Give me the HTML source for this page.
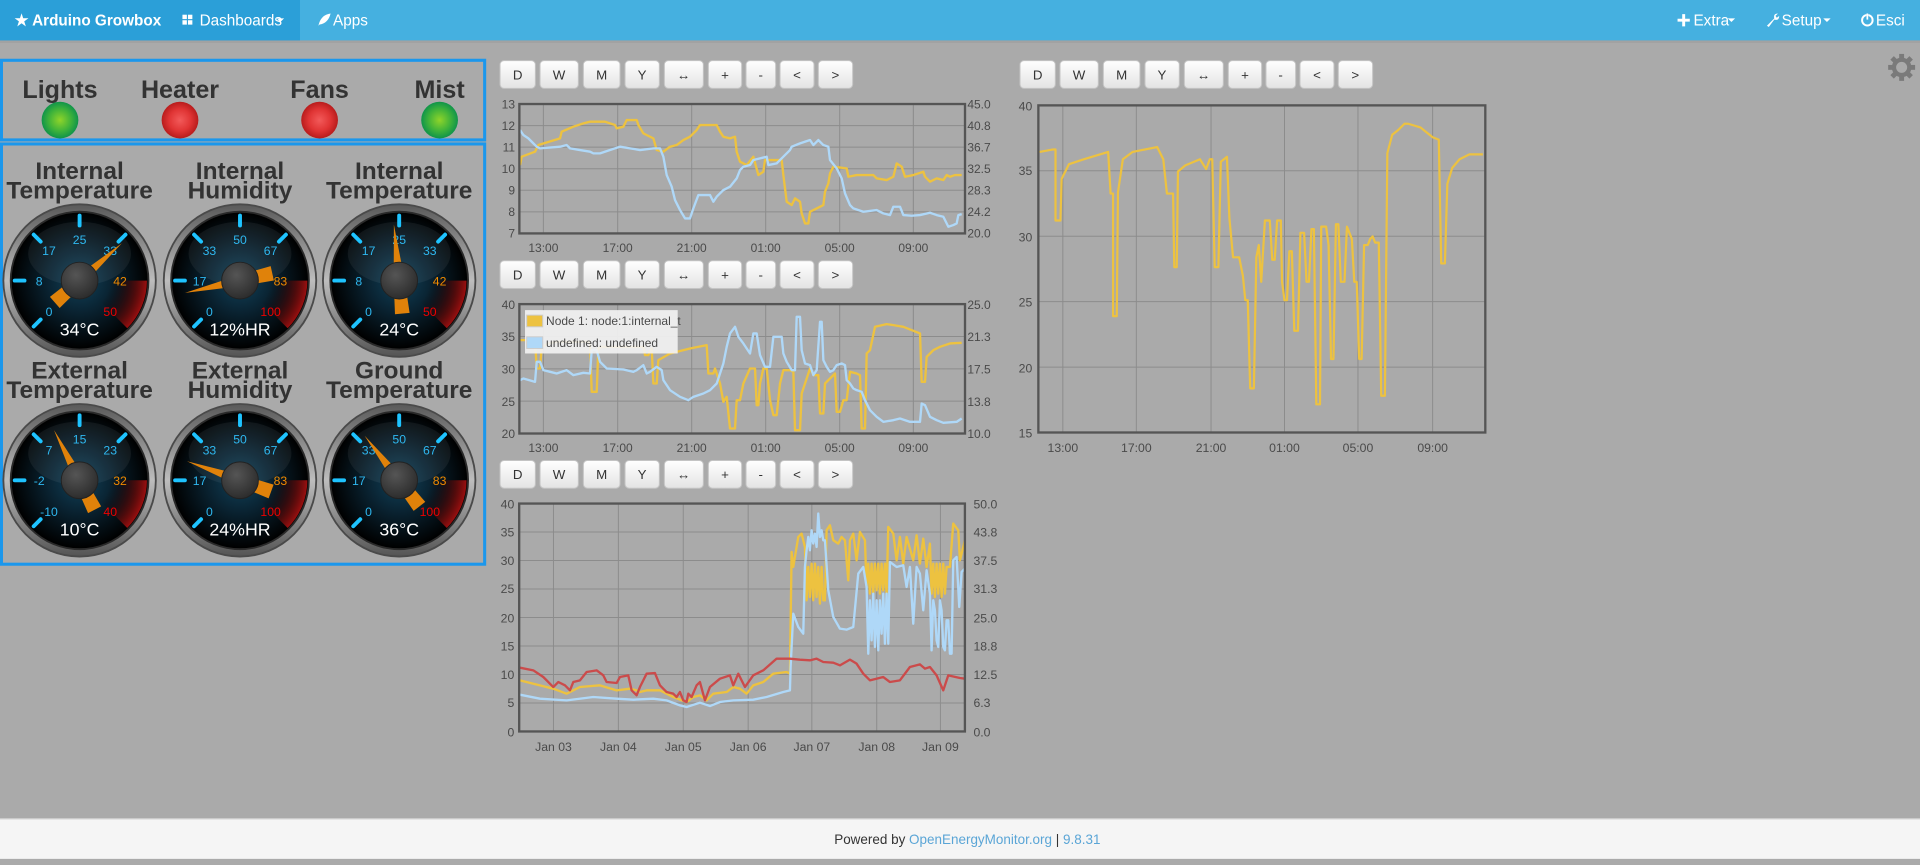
<!DOCTYPE html>
<html><head><meta charset="utf-8"><style>
html,body{margin:0;padding:0;background:#aaa;overflow:hidden;width:1920px;height:865px}
svg{display:block}
text{font-family:"Liberation Sans",Arial,sans-serif}
</style></head><body>
<svg width="1920" height="865" viewBox="0 0 1568 706" preserveAspectRatio="none" xmlns="http://www.w3.org/2000/svg">
<defs>
<linearGradient id="btn" x1="0" y1="0" x2="0" y2="1"><stop offset="0" stop-color="#ffffff"/><stop offset="1" stop-color="#e3e3e3"/></linearGradient>
<linearGradient id="ring" x1="0" y1="0" x2="0" y2="1"><stop offset="0" stop-color="#5a5a5a"/><stop offset="0.5" stop-color="#bdbdbd"/><stop offset="1" stop-color="#555"/></linearGradient>
<radialGradient id="face" cx="0.5" cy="0.5" r="0.5"><stop offset="0" stop-color="#10425a"/><stop offset="0.45" stop-color="#0a2433"/><stop offset="1" stop-color="#000"/></radialGradient>
<radialGradient id="red" cx="0" cy="0" r="55" gradientUnits="userSpaceOnUse"><stop offset="0.45" stop-color="#000" stop-opacity="0"/><stop offset="1" stop-color="#9a1010"/></radialGradient>
<radialGradient id="knob" cx="0.4" cy="0.35" r="0.7"><stop offset="0" stop-color="#555"/><stop offset="1" stop-color="#2a2a2a"/></radialGradient>
<radialGradient id="ledg" cx="0.5" cy="0.5" r="0.5"><stop offset="0" stop-color="#8fd42a"/><stop offset="0.6" stop-color="#3fb33a"/><stop offset="1" stop-color="#10944a"/></radialGradient>
<radialGradient id="ledr" cx="0.5" cy="0.5" r="0.5"><stop offset="0" stop-color="#f25a5a"/><stop offset="0.6" stop-color="#e03434"/><stop offset="1" stop-color="#b81c1c"/></radialGradient>
<g id="gface">
<circle r="63" fill="#4a4a4a"/>
<circle r="61.5" fill="url(#ring)"/>
<circle r="57" fill="#2a2a2a"/>
<circle r="55.5" fill="url(#face)"/>
<path d="M0,0 L55,0 A55,55 0 0 1 38.9,38.9 Z" fill="url(#red)"/>
<ellipse cx="0" cy="-22" rx="42" ry="26" fill="#fff" opacity="0.06"/>
<g stroke="#1ec3ff" stroke-width="3.2" stroke-linecap="round">
<line x1="-31.8" y1="31.8" x2="-37.5" y2="37.5"/>
<line x1="-45" y1="0" x2="-53" y2="0"/>
<line x1="-31.8" y1="-31.8" x2="-37.5" y2="-37.5"/>
<line x1="0" y1="-45" x2="0" y2="-53"/>
<line x1="31.8" y1="-31.8" x2="37.5" y2="-37.5"/>
</g>
</g>
</defs>

<!-- navbar -->
<rect x="0" y="0" width="1568" height="33" fill="#45b0e0"/>
<rect x="0" y="0" width="245" height="33" fill="#2b9fd8"/>
<rect x="0" y="33" width="1568" height="2" fill="#9a9a9a" opacity="0.5"/>
<g fill="#fff" font-size="12.5">
<text x="12" y="21" font-weight="bold">★ Arduino Growbox</text>
<rect x="149" y="12" width="3.6" height="3.6"/><rect x="153.5" y="12" width="3.6" height="3.6"/><rect x="149" y="16.5" width="3.6" height="3.6"/><rect x="153.5" y="16.5" width="3.6" height="3.6"/>
<text x="163" y="21">Dashboards</text><path d="M226,15 L232,15 L229,18 Z"/>
<path d="M260,21 Q262,12 270,11 Q268,19 261,20 Z" /><text x="272" y="21">Apps</text>
<path d="M1370,15.3 H1380 V17.7 H1370 Z M1373.8,11.5 H1376.2 V21.5 H1373.8 Z"/><text x="1383" y="21">Extra</text><path d="M1411,15 L1417,15 L1414,18 Z"/>
<path d="M1443,21 L1449,15 Q1448,11 1452,11 L1450,13 L1451,14.5 L1453,13 Q1453,17 1449,16 L1444.5,22 Z"/><text x="1455" y="21">Setup</text><path d="M1489,15 L1495,15 L1492,18 Z"/>
<circle cx="1525" cy="16.5" r="4.3" fill="none" stroke="#fff" stroke-width="1.6"/><rect x="1524.2" y="10.5" width="1.6" height="6" fill="#45b0e0"/><rect x="1524.3" y="11" width="1.4" height="5"/><text x="1532" y="21">Esci</text>
</g>

<!-- gear -->
<g transform="translate(1553,55)" fill="#7a7a7a">
<g><rect x="-2" y="-11" width="4" height="22"/><rect x="-11" y="-2" width="22" height="4"/></g>
<g transform="rotate(45)"><rect x="-2" y="-11" width="4" height="22"/><rect x="-11" y="-2" width="22" height="4"/></g>
<circle r="8"/><circle r="4.5" fill="#aaa"/>
</g>

<!-- indicator box -->
<rect x="1.2" y="49.2" width="394.6" height="65" fill="none" stroke="#1b97ec" stroke-width="2.5"/>
<g font-size="20.5" font-weight="bold" fill="#333" text-anchor="middle">
<text x="49" y="80">Lights</text><text x="147" y="80">Heater</text><text x="261" y="80">Fans</text><text x="359" y="80">Mist</text>
</g>
<circle cx="49" cy="98" r="15" fill="url(#ledg)"/><circle cx="147" cy="98" r="15" fill="url(#ledr)"/>
<circle cx="261" cy="98" r="15" fill="url(#ledr)"/><circle cx="359" cy="98" r="15" fill="url(#ledg)"/>

<!-- gauge box -->
<rect x="1.2" y="117.5" width="394.6" height="343" fill="none" stroke="#1b97ec" stroke-width="2.5"/>
<g font-size="20" font-weight="bold" fill="#333" text-anchor="middle">
<text x="65" y="146">Internal</text><text x="65" y="162">Temperature</text>
<text x="196" y="146">Internal</text><text x="196" y="162">Humidity</text>
<text x="326" y="146">Internal</text><text x="326" y="162">Temperature</text>
<text x="65" y="309">External</text><text x="65" y="325">Temperature</text>
<text x="196" y="309">External</text><text x="196" y="325">Humidity</text>
<text x="326" y="309">Ground</text><text x="326" y="325">Temperature</text>
</g>

<!-- gauges -->
<g transform="translate(65,229)"><use href="#gface"/>
<g font-size="10" text-anchor="middle"><g fill="#2fb8f0"><text x="-25" y="29">0</text><text x="-33" y="4">8</text><text x="-25" y="-21">17</text><text x="0" y="-30">25</text><text x="25" y="-21">33</text></g><text x="33" y="4" fill="#f08a00">42</text><text x="25" y="29" fill="#e00">50</text></g>
<polygon points="46,0 0,-4.5 -27,-6 -27,6 0,4.5" fill="#e0820a" transform="rotate(-41.4)"/>
<circle r="15" fill="url(#knob)" stroke="#222" stroke-width="0.8"/>
<text y="45" font-size="14.5" fill="#fff" text-anchor="middle">34°C</text></g>

<g transform="translate(196,229)"><use href="#gface"/>
<g font-size="10" text-anchor="middle"><g fill="#2fb8f0"><text x="-25" y="29">0</text><text x="-33" y="4">17</text><text x="-25" y="-21">33</text><text x="0" y="-30">50</text><text x="25" y="-21">67</text></g><text x="33" y="4" fill="#f08a00">83</text><text x="25" y="29" fill="#e00">100</text></g>
<polygon points="46,0 0,-4.5 -27,-6 -27,6 0,4.5" fill="#e0820a" transform="rotate(-192.6)"/>
<circle r="15" fill="url(#knob)" stroke="#222" stroke-width="0.8"/>
<text y="45" font-size="14.5" fill="#fff" text-anchor="middle">12%HR</text></g>

<g transform="translate(326,229)"><use href="#gface"/>
<g font-size="10" text-anchor="middle"><g fill="#2fb8f0"><text x="-25" y="29">0</text><text x="-33" y="4">8</text><text x="-25" y="-21">17</text><text x="0" y="-30">25</text><text x="25" y="-21">33</text></g><text x="33" y="4" fill="#f08a00">42</text><text x="25" y="29" fill="#e00">50</text></g>
<polygon points="46,0 0,-4.5 -27,-6 -27,6 0,4.5" fill="#e0820a" transform="rotate(-95.4)"/>
<circle r="15" fill="url(#knob)" stroke="#222" stroke-width="0.8"/>
<text y="45" font-size="14.5" fill="#fff" text-anchor="middle">24°C</text></g>

<g transform="translate(65,392)"><use href="#gface"/>
<g font-size="10" text-anchor="middle"><g fill="#2fb8f0"><text x="-25" y="29">-10</text><text x="-33" y="4">-2</text><text x="-25" y="-21">7</text><text x="0" y="-30">15</text><text x="25" y="-21">23</text></g><text x="33" y="4" fill="#f08a00">32</text><text x="25" y="29" fill="#e00">40</text></g>
<polygon points="46,0 0,-4.5 -27,-6 -27,6 0,4.5" fill="#e0820a" transform="rotate(-117)"/>
<circle r="15" fill="url(#knob)" stroke="#222" stroke-width="0.8"/>
<text y="45" font-size="14.5" fill="#fff" text-anchor="middle">10°C</text></g>

<g transform="translate(196,392)"><use href="#gface"/>
<g font-size="10" text-anchor="middle"><g fill="#2fb8f0"><text x="-25" y="29">0</text><text x="-33" y="4">17</text><text x="-25" y="-21">33</text><text x="0" y="-30">50</text><text x="25" y="-21">67</text></g><text x="33" y="4" fill="#f08a00">83</text><text x="25" y="29" fill="#e00">100</text></g>
<polygon points="46,0 0,-4.5 -27,-6 -27,6 0,4.5" fill="#e0820a" transform="rotate(-160.2)"/>
<circle r="15" fill="url(#knob)" stroke="#222" stroke-width="0.8"/>
<text y="45" font-size="14.5" fill="#fff" text-anchor="middle">24%HR</text></g>

<g transform="translate(326,392)"><use href="#gface"/>
<g font-size="10" text-anchor="middle"><g fill="#2fb8f0"><text x="-25" y="29">0</text><text x="-33" y="4">17</text><text x="-25" y="-21">33</text><text x="0" y="-30">50</text><text x="25" y="-21">67</text></g><text x="33" y="4" fill="#f08a00">83</text><text x="25" y="29" fill="#e00">100</text></g>
<polygon points="46,0 0,-4.5 -27,-6 -27,6 0,4.5" fill="#e0820a" transform="rotate(-127.8)"/>
<circle r="15" fill="url(#knob)" stroke="#222" stroke-width="0.8"/>
<text y="45" font-size="14.5" fill="#fff" text-anchor="middle">36°C</text></g>

<!-- charts in zoom units -->
<g transform="translate(400.2,40.8) scale(0.2722)">
<g fill="url(#btn)" stroke="#c4c4c4" stroke-width="3">
<rect x="30" y="32" width="106" height="83" rx="12"/><rect x="150" y="32" width="115" height="83" rx="12"/><rect x="280" y="32" width="110" height="83" rx="12"/><rect x="405" y="32" width="103" height="83" rx="12"/><rect x="523" y="32" width="117" height="83" rx="12"/><rect x="655" y="32" width="100" height="83" rx="12"/><rect x="768" y="32" width="89" height="83" rx="12"/><rect x="870" y="32" width="102" height="83" rx="12"/><rect x="985" y="32" width="103" height="83" rx="12"/>
</g>
<g transform="translate(0,600)"><g fill="url(#btn)" stroke="#c4c4c4" stroke-width="3">
<rect x="30" y="32" width="106" height="83" rx="12"/><rect x="150" y="32" width="115" height="83" rx="12"/><rect x="280" y="32" width="110" height="83" rx="12"/><rect x="405" y="32" width="103" height="83" rx="12"/><rect x="523" y="32" width="117" height="83" rx="12"/><rect x="655" y="32" width="100" height="83" rx="12"/><rect x="768" y="32" width="89" height="83" rx="12"/><rect x="870" y="32" width="102" height="83" rx="12"/><rect x="985" y="32" width="103" height="83" rx="12"/></g></g>
<g transform="translate(0,1199)"><g fill="url(#btn)" stroke="#c4c4c4" stroke-width="3">
<rect x="30" y="32" width="106" height="83" rx="12"/><rect x="150" y="32" width="115" height="83" rx="12"/><rect x="280" y="32" width="110" height="83" rx="12"/><rect x="405" y="32" width="103" height="83" rx="12"/><rect x="523" y="32" width="117" height="83" rx="12"/><rect x="655" y="32" width="100" height="83" rx="12"/><rect x="768" y="32" width="89" height="83" rx="12"/><rect x="870" y="32" width="102" height="83" rx="12"/><rect x="985" y="32" width="103" height="83" rx="12"/></g></g>
<g transform="translate(1560,0)"><g fill="url(#btn)" stroke="#c4c4c4" stroke-width="3">
<rect x="30" y="32" width="106" height="83" rx="12"/><rect x="150" y="32" width="115" height="83" rx="12"/><rect x="280" y="32" width="110" height="83" rx="12"/><rect x="405" y="32" width="103" height="83" rx="12"/><rect x="523" y="32" width="117" height="83" rx="12"/><rect x="655" y="32" width="100" height="83" rx="12"/><rect x="768" y="32" width="89" height="83" rx="12"/><rect x="870" y="32" width="102" height="83" rx="12"/><rect x="985" y="32" width="103" height="83" rx="12"/></g></g>
<g font-size="40" fill="#333" text-anchor="middle">
<text x="83" y="88">D</text><text x="207" y="88">W</text><text x="335" y="88">M</text><text x="456" y="88">Y</text><text x="581" y="88">↔</text><text x="705" y="88">+</text><text x="812" y="88">-</text><text x="921" y="88">&lt;</text><text x="1036" y="88">&gt;</text>
<text x="83" y="688">D</text><text x="207" y="688">W</text><text x="335" y="688">M</text><text x="456" y="688">Y</text><text x="581" y="688">↔</text><text x="705" y="688">+</text><text x="812" y="688">-</text><text x="921" y="688">&lt;</text><text x="1036" y="688">&gt;</text>
<text x="83" y="1287">D</text><text x="207" y="1287">W</text><text x="335" y="1287">M</text><text x="456" y="1287">Y</text><text x="581" y="1287">↔</text><text x="705" y="1287">+</text><text x="812" y="1287">-</text><text x="921" y="1287">&lt;</text><text x="1036" y="1287">&gt;</text>
<text x="1643" y="88">D</text><text x="1767" y="88">W</text><text x="1895" y="88">M</text><text x="2016" y="88">Y</text><text x="2141" y="88">↔</text><text x="2265" y="88">+</text><text x="2372" y="88">-</text><text x="2481" y="88">&lt;</text><text x="2596" y="88">&gt;</text>
</g>

<!-- chart1 -->
<g stroke="#8c8c8c" stroke-width="3">
<line x1="160" y1="162" x2="160" y2="550"/><line x1="383" y1="162" x2="383" y2="550"/><line x1="605" y1="162" x2="605" y2="550"/><line x1="827" y1="162" x2="827" y2="550"/><line x1="1049" y1="162" x2="1049" y2="550"/><line x1="1270" y1="162" x2="1270" y2="550"/>
<line x1="88" y1="226.7" x2="1425" y2="226.7"/><line x1="88" y1="291.3" x2="1425" y2="291.3"/><line x1="88" y1="356" x2="1425" y2="356"/><line x1="88" y1="420.7" x2="1425" y2="420.7"/><line x1="88" y1="485.3" x2="1425" y2="485.3"/>
</g>
<polyline fill="none" stroke="#edc240" stroke-width="7" stroke-linejoin="round" points="90,345 95,320 135,305 145,285 210,265 215,245 250,230 280,220 300,215 345,215 375,225 380,235 400,230 410,210 440,210 445,225 460,250 490,265 500,300 520,305 540,290 560,285 580,270 600,260 620,240 630,225 680,225 690,245 700,260 720,265 735,260 740,305 750,335 770,345 790,320 805,375 820,365 825,330 875,330 880,375 890,455 905,465 915,445 930,455 935,490 945,520 955,520 960,485 980,475 1000,465 1005,425 1015,400 1020,370 1030,350 1070,355 1075,380 1100,375 1150,375 1160,385 1190,390 1210,380 1220,340 1235,350 1245,380 1270,375 1300,365 1305,380 1320,395 1340,385 1360,390 1370,375 1380,380 1395,375 1415,375"/>
<polyline fill="none" stroke="#afd8f8" stroke-width="7" stroke-linejoin="round" points="90,240 100,255 115,265 130,280 140,290 150,295 210,290 230,285 240,295 270,300 300,305 310,310 330,310 360,300 390,290 420,295 450,300 490,295 510,295 520,320 530,375 545,410 555,450 570,480 585,505 600,505 610,475 625,435 660,435 670,455 680,440 700,420 720,410 740,385 750,360 760,350 780,345 790,330 810,325 830,320 835,345 860,340 880,320 900,300 905,290 930,280 960,270 970,285 985,270 1000,285 1015,290 1020,330 1040,355 1055,385 1065,430 1080,465 1090,475 1120,485 1160,480 1180,490 1200,495 1210,470 1230,470 1240,495 1265,497 1290,495 1320,488 1340,495 1360,500 1375,530 1390,525 1400,520 1405,495 1415,492"/>
<rect x="88" y="162" width="1337" height="388" fill="none" stroke="#555" stroke-width="7"/>
<g font-size="36" fill="#4a4a4a">
<g text-anchor="end"><text x="75" y="175">13</text><text x="75" y="240">12</text><text x="75" y="304">11</text><text x="75" y="369">10</text><text x="75" y="434">9</text><text x="75" y="498">8</text><text x="75" y="563">7</text></g>
<text x="1432" y="175">45.0</text><text x="1432" y="240">40.8</text><text x="1432" y="304">36.7</text><text x="1432" y="369">32.5</text><text x="1432" y="434">28.3</text><text x="1432" y="498">24.2</text><text x="1432" y="563">20.0</text>
<g text-anchor="middle"><text x="160" y="605">13:00</text><text x="383" y="605">17:00</text><text x="605" y="605">21:00</text><text x="827" y="605">01:00</text><text x="1049" y="605">05:00</text><text x="1270" y="605">09:00</text></g>
</g>

<!-- chart2 -->
<g stroke="#8c8c8c" stroke-width="3">
<line x1="160" y1="762" x2="160" y2="1150"/><line x1="383" y1="762" x2="383" y2="1150"/><line x1="605" y1="762" x2="605" y2="1150"/><line x1="827" y1="762" x2="827" y2="1150"/><line x1="1049" y1="762" x2="1049" y2="1150"/><line x1="1270" y1="762" x2="1270" y2="1150"/>
<line x1="88" y1="859" x2="1425" y2="859"/><line x1="88" y1="956" x2="1425" y2="956"/><line x1="88" y1="1053" x2="1425" y2="1053"/>
</g>
<polyline fill="none" stroke="#edc240" stroke-width="7" stroke-linejoin="round" points="90,870 135,870 140,955 150,955 155,890 175,880 200,875 300,875 305,1025 320,1025 325,895 335,890 460,890 465,915 475,915 485,895 490,1000 500,1000 505,930 540,910 600,895 650,885 655,970 670,970 675,955 690,1000 700,1055 710,1040 720,1135 735,1135 740,1050 750,1050 760,1000 780,955 795,955 800,1065 805,1065 810,1000 820,955 830,955 840,1050 850,1095 860,1095 870,1000 880,960 900,960 910,965 915,1140 930,1140 935,1030 945,1000 960,955 970,975 985,975 990,1090 1000,1090 1005,1000 1020,985 1035,970 1040,1085 1050,1085 1060,1050 1070,1050 1080,965 1100,970 1110,975 1115,1135 1125,1135 1130,910 1140,900 1155,830 1190,822 1210,825 1240,830 1290,850 1295,995 1305,995 1310,920 1330,900 1350,890 1380,880 1415,878"/>
<polyline fill="none" stroke="#afd8f8" stroke-width="7" stroke-linejoin="round" points="90,990 100,985 135,995 140,935 150,935 160,960 180,965 200,970 230,960 250,975 280,968 300,970 305,900 320,900 330,935 350,955 400,958 430,965 440,960 460,945 470,970 480,965 500,950 515,960 520,990 540,1020 570,1040 595,1050 610,1040 640,1030 660,1020 680,1000 690,970 700,940 710,890 720,850 735,830 745,860 760,880 780,910 790,850 800,850 810,915 825,950 840,950 850,860 875,860 880,910 890,935 905,960 915,960 920,800 930,800 935,900 945,940 960,945 970,975 980,960 990,815 995,815 1000,930 1010,950 1020,965 1030,960 1040,945 1055,940 1065,945 1070,990 1080,1000 1090,1015 1100,1020 1115,1025 1125,1050 1140,1080 1160,1100 1180,1115 1210,1110 1230,1105 1260,1115 1290,1115 1295,1060 1305,1065 1320,1100 1340,1110 1360,1118 1400,1115 1415,1105"/>
<rect x="88" y="762" width="1337" height="388" fill="none" stroke="#555" stroke-width="7"/>
<rect x="105" y="780" width="458" height="130" fill="#f2f2f2" opacity="0.92"/>
<rect x="110" y="795" width="48" height="35" fill="#edc240" stroke="#ccc" stroke-width="3"/>
<rect x="110" y="860" width="48" height="35" fill="#afd8f8" stroke="#ccc" stroke-width="3"/>
<g font-size="36" fill="#4a4a4a">
<text x="168" y="825">Node 1: node:1:internal_t</text><text x="168" y="890">undefined: undefined</text>
<g text-anchor="end"><text x="75" y="777">40</text><text x="75" y="873">35</text><text x="75" y="970">30</text><text x="75" y="1067">25</text><text x="75" y="1163">20</text></g>
<text x="1432" y="777">25.0</text><text x="1432" y="873">21.3</text><text x="1432" y="970">17.5</text><text x="1432" y="1067">13.8</text><text x="1432" y="1163">10.0</text>
<g text-anchor="middle"><text x="160" y="1205">13:00</text><text x="383" y="1205">17:00</text><text x="605" y="1205">21:00</text><text x="827" y="1205">01:00</text><text x="1049" y="1205">05:00</text><text x="1270" y="1205">09:00</text></g>
</g>
</g>

<!-- chart3 (page units) -->
<g stroke="#8c8c8c" stroke-width="0.8">
<line x1="452" y1="411" x2="452" y2="597"/><line x1="505" y1="411" x2="505" y2="597"/><line x1="558" y1="411" x2="558" y2="597"/><line x1="611" y1="411" x2="611" y2="597"/><line x1="663" y1="411" x2="663" y2="597"/><line x1="716" y1="411" x2="716" y2="597"/><line x1="768" y1="411" x2="768" y2="597"/>
<line x1="424" y1="434.25" x2="788" y2="434.25"/><line x1="424" y1="457.5" x2="788" y2="457.5"/><line x1="424" y1="480.75" x2="788" y2="480.75"/><line x1="424" y1="504" x2="788" y2="504"/><line x1="424" y1="527.25" x2="788" y2="527.25"/><line x1="424" y1="550.5" x2="788" y2="550.5"/><line x1="424" y1="573.75" x2="788" y2="573.75"/>
</g>
<g transform="translate(408.3,408.3) scale(0.2722)" fill="none" stroke-width="7" stroke-linejoin="round">
<polyline stroke="#edc240" points="60,540 120,555 160,565 200,580 240,560 300,555 350,570 390,565 410,570 420,575 440,570 480,570 500,580 520,590 560,605 580,590 600,585 620,600 640,580 680,575 700,560 720,565 740,580 760,555 790,545 820,520 860,515 870,520 875,155 880,200 895,110 905,100 915,140 920,300 925,200 930,290 935,190 940,300 945,190 950,290 955,200 960,310 965,200 970,300 975,300 980,90 990,75 1000,120 1015,130 1025,110 1035,120 1045,240 1050,120 1060,100 1070,180 1080,95 1095,120 1100,260 1105,190 1110,280 1115,190 1120,280 1125,190 1130,270 1135,190 1140,280 1145,190 1150,270 1155,190 1160,280 1165,80 1180,100 1190,180 1200,110 1210,190 1220,110 1240,180 1250,105 1260,190 1270,115 1280,200 1290,130 1295,280 1300,190 1305,290 1310,190 1315,280 1320,190 1325,290 1330,190 1335,280 1340,200 1350,200 1360,70 1375,90 1380,180 1395,120"/>
<polyline stroke="#afd8f8" points="60,583 120,595 200,600 280,590 350,595 400,598 460,595 500,600 540,615 560,620 600,607 630,617 660,605 700,600 760,598 800,590 850,575 870,570 872,500 880,340 895,380 910,400 915,200 920,150 925,110 930,150 935,90 940,130 945,100 950,140 955,40 960,110 965,90 970,120 975,120 985,270 1000,350 1020,385 1040,388 1060,380 1075,220 1090,200 1100,260 1105,460 1110,300 1115,420 1120,280 1125,440 1130,300 1135,450 1140,300 1145,400 1150,280 1155,430 1160,280 1165,430 1170,185 1190,200 1210,195 1220,260 1230,200 1240,370 1250,200 1260,220 1270,330 1280,210 1290,280 1295,450 1300,300 1305,330 1310,420 1315,440 1320,300 1325,330 1330,440 1335,450 1340,360 1345,360 1350,460 1355,460 1360,180 1370,170 1378,320 1385,215 1395,205"/>
<polyline stroke="#cb4b4b" points="60,502 100,510 130,530 160,560 175,545 195,555 210,570 220,545 240,540 260,515 290,510 310,525 320,545 350,548 360,530 385,525 395,570 410,585 420,560 440,520 465,518 480,555 500,575 520,580 530,590 540,575 550,600 560,605 565,580 575,590 590,555 600,545 615,600 630,560 660,535 690,525 700,555 715,520 735,560 760,525 790,510 830,475 870,475 900,478 930,480 950,475 970,485 1000,487 1020,495 1050,478 1070,490 1090,520 1110,540 1150,530 1170,545 1200,540 1230,500 1260,492 1275,505 1290,500 1310,525 1330,570 1345,525 1380,533 1395,535"/>
</g>
<rect x="424" y="411" width="364" height="186" fill="none" stroke="#555" stroke-width="1.9"/>
<g font-size="10" fill="#4a4a4a">
<g text-anchor="end"><text x="420" y="415">40</text><text x="420" y="438">35</text><text x="420" y="461">30</text><text x="420" y="484">25</text><text x="420" y="508">20</text><text x="420" y="531">15</text><text x="420" y="554">10</text><text x="420" y="577">5</text><text x="420" y="601">0</text></g>
<text x="795" y="415">50.0</text><text x="795" y="438">43.8</text><text x="795" y="461">37.5</text><text x="795" y="484">31.3</text><text x="795" y="508">25.0</text><text x="795" y="531">18.8</text><text x="795" y="554">12.5</text><text x="795" y="577">6.3</text><text x="795" y="601">0.0</text>
<g text-anchor="middle"><text x="452" y="613">Jan 03</text><text x="505" y="613">Jan 04</text><text x="558" y="613">Jan 05</text><text x="611" y="613">Jan 06</text><text x="663" y="613">Jan 07</text><text x="716" y="613">Jan 08</text><text x="768" y="613">Jan 09</text></g>
</g>

<!-- chart4 (page units) -->
<g stroke="#8c8c8c" stroke-width="0.8">
<line x1="868" y1="86" x2="868" y2="353"/><line x1="928" y1="86" x2="928" y2="353"/><line x1="989" y1="86" x2="989" y2="353"/><line x1="1049" y1="86" x2="1049" y2="353"/><line x1="1109" y1="86" x2="1109" y2="353"/><line x1="1170" y1="86" x2="1170" y2="353"/>
<line x1="848" y1="139.4" x2="1213" y2="139.4"/><line x1="848" y1="192.8" x2="1213" y2="192.8"/><line x1="848" y1="246.2" x2="1213" y2="246.2"/><line x1="848" y1="299.6" x2="1213" y2="299.6"/>
</g>
<polyline fill="none" stroke="#edc240" stroke-width="1.8" stroke-linejoin="round" points="849,124 860,122 862,122 862,180 866,180 867,146 873,134 885,130 905,124 907,158 909,158 909,258 912,258 913,157 917,130 925,124 945,120 950,130 953,158 958,158 959,218 961,218 962,140 968,135 980,130 985,138 988,130 990,130 992,218 995,218 997,132 1002,128 1004,178 1007,210 1012,210 1015,225 1017,245 1019,245 1021,317 1024,317 1026,210 1028,200 1030,230 1033,180 1037,180 1039,212 1041,212 1043,180 1046,180 1047,230 1049,245 1051,245 1053,205 1055,205 1057,270 1060,270 1062,190 1065,190 1067,230 1069,230 1071,187 1073,187 1075,330 1078,330 1079,185 1083,185 1085,200 1087,293 1089,293 1091,183 1093,183 1095,230 1098,230 1100,185 1104,195 1106,230 1108,230 1110,293 1112,293 1114,200 1117,200 1119,195 1121,193 1123,198 1126,198 1128,323 1131,323 1133,125 1137,110 1142,106 1147,101 1150,101 1160,104 1170,112 1175,114 1177,215 1180,215 1182,150 1186,137 1192,130 1200,126 1211,126"/>
<rect x="848" y="86" width="365" height="267" fill="none" stroke="#555" stroke-width="1.9"/>
<g font-size="10" fill="#4a4a4a">
<g text-anchor="end"><text x="843" y="90">40</text><text x="843" y="143">35</text><text x="843" y="197">30</text><text x="843" y="250">25</text><text x="843" y="304">20</text><text x="843" y="357">15</text></g>
<g text-anchor="middle"><text x="868" y="369">13:00</text><text x="928" y="369">17:00</text><text x="989" y="369">21:00</text><text x="1049" y="369">01:00</text><text x="1109" y="369">05:00</text><text x="1170" y="369">09:00</text></g>
</g>

<!-- footer -->
<rect x="0" y="668" width="1568" height="34" fill="#f5f5f5"/>
<rect x="0" y="668" width="1568" height="1" fill="#ddd"/>
<rect x="0" y="701" width="1568" height="5" fill="#aaa"/>
<text x="790" y="689" font-size="11" fill="#333" text-anchor="middle">Powered by <tspan fill="#5aa5d6">OpenEnergyMonitor.org</tspan> | <tspan fill="#5aa5d6">9.8.31</tspan></text>
</svg>
</body></html>
